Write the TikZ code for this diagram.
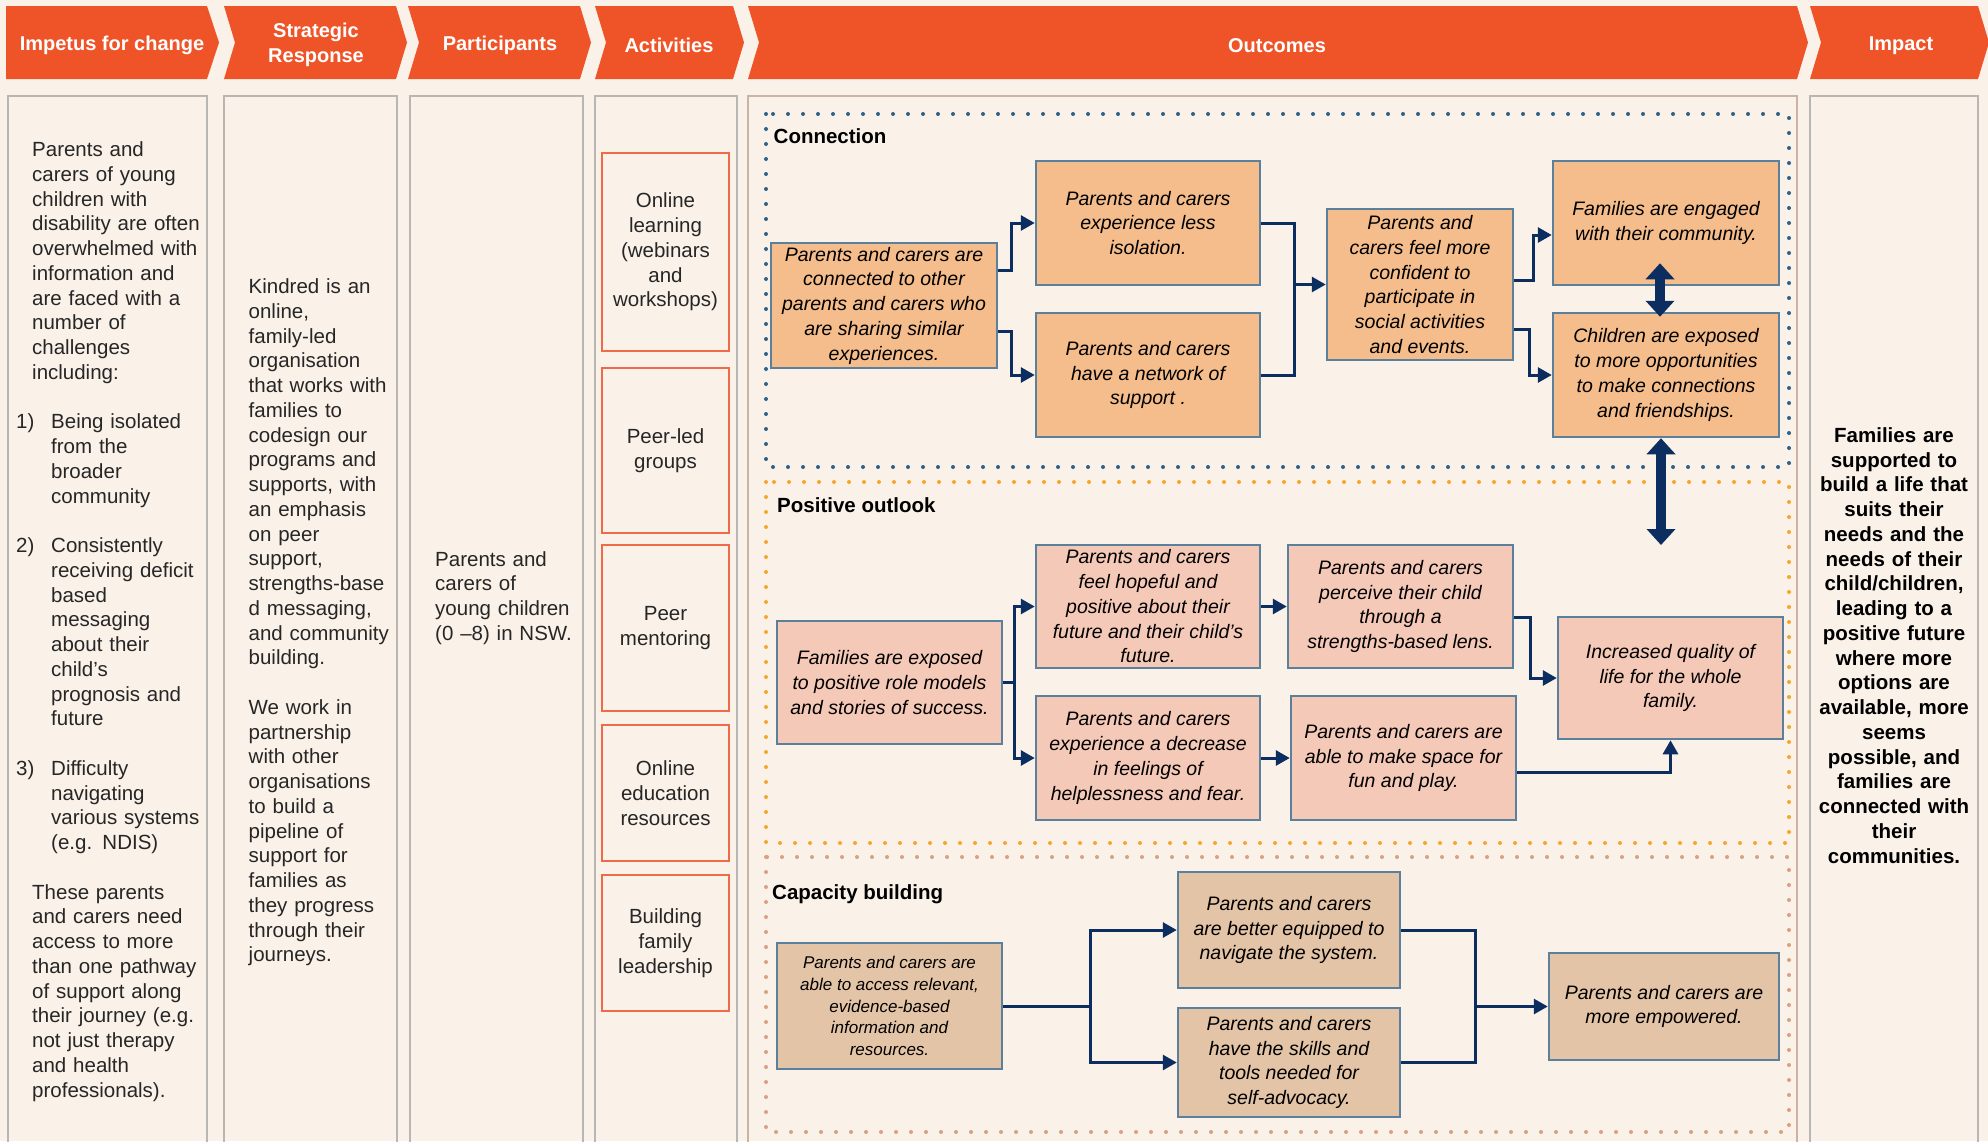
\documentclass[tikz,border=0pt]{standalone}
\usepackage{fontspec}
\setmainfont{Liberation Sans}
\usepackage{tikz}
\usetikzlibrary{arrows.meta}
\definecolor{cream}{HTML}{FAF1E8}
\definecolor{headorange}{HTML}{EF5428}
\definecolor{panelgray}{HTML}{B9B7B4}
\definecolor{panelbrown}{HTML}{C9B3A5}
\definecolor{actred}{HTML}{EF6A48}
\definecolor{boxblue}{HTML}{5B809C}
\definecolor{navy}{HTML}{0C2D60}
\definecolor{connfill}{HTML}{F4BD8B}
\definecolor{posfill}{HTML}{F5C9B7}
\definecolor{capfill}{HTML}{E4C4A6}
\definecolor{dotblue}{HTML}{2F6189}
\definecolor{dotorange}{HTML}{F6A62C}
\definecolor{dottan}{HTML}{D9A17E}
\definecolor{inkgray}{HTML}{262626}
\tikzstyle{head} = [text=white, align=center, font=\bfseries\fontsize{20}{25}\selectfont]
\tikzstyle{panel} = [draw=panelgray, line width=2.5pt]
\tikzstyle{coltext} = [anchor=base west, inner sep=0pt, text width=185pt, align=left, text=inkgray, font=\fontsize{20.5}{24.75}\selectfont]
\tikzstyle{impact} = [inner sep=0pt, text width=165pt, align=center, text=black, font=\bfseries\fontsize{20.5}{24.75}\selectfont]
\tikzstyle{activity} = [draw=actred, line width=2.5pt, minimum width=127pt, align=center, text=inkgray, font=\fontsize{20.5}{24.75}\selectfont]
\tikzstyle{outcome} = [draw=boxblue, line width=2.5pt, align=center, inner sep=2pt, text=black, font=\itshape\fontsize{19.5}{24.75}\selectfont]
\tikzstyle{connbox} = [outcome, fill=connfill]
\tikzstyle{posbox} = [outcome, fill=posfill]
\tikzstyle{capbox} = [outcome, fill=capfill]
\tikzstyle{conn} = [draw=navy, line width=3pt, -{Triangle[length=14pt,width=15pt]}]
\tikzstyle{joint} = [draw=navy, line width=3pt]
\tikzstyle{both} = [draw=navy, line width=10pt, {Triangle[length=16pt,width=28pt]}-{Triangle[length=16pt,width=28pt]}]
\tikzstyle{frame} = [line width=4pt, line cap=round, dash pattern=on 0pt off 15pt]
\tikzstyle{section} = [anchor=base west, inner sep=0pt, font=\bfseries\fontsize{20.5}{24.75}\selectfont]

\begin{document}
\begin{tikzpicture}[x=1pt,y=-1pt]
\useasboundingbox (0,0) rectangle (1988,1141);
\fill[cream] (0,0) rectangle (1988,1141);
\clip (0,0) rectangle (1988,1141);

\fill[headorange] (6,6) -- (207,6) -- (219,42.5) -- (207,79) -- (6,79) -- cycle;
\foreach \l/\r in {224/396, 408/580, 595/733, 748/1797, 1810/1978}
  \fill[headorange] (\l,6) -- (\r,6) -- (\r+11,42.5) -- (\r,79) -- (\l,79) -- (\l+11,42.5) -- cycle;
\node[head] (hImpetus) at (112,45.5) {Impetus for change};
\node[head] (hStrategy) at (316,45) {Strategic\\Response};
\node[head] (hParticipants) at (500,45.5) {Participants};
\node[head] (hActivities) at (669,45.5) {Activities};
\node[head] (hOutcomes) at (1277,45.5) {Outcomes};
\node[head] (hImpact) at (1901,45.5) {Impact};

\foreach \l/\r in {8/207, 224/397, 410/583, 595/737, 1810/1978}
  \draw[panel] (\l,1160) -- (\l,96) -- (\r,96) -- (\r,1160);
\draw[panel, draw=panelbrown] (748,1160) -- (748,96) -- (1797,96) -- (1797,1160);

\node[coltext] (impIntro) at (32,156.5) {Parents and\\carers of young\\children with\\disability are often\\overwhelmed with\\information and\\are faced with a\\number of\\challenges\\including:};
\node[coltext] (impNumA) at (16,428.75) {1)};
\node[coltext] (impA) at (51,428.75) {Being isolated\\from the\\broader\\community};
\node[coltext] (impNumB) at (16,552.5) {2)};
\node[coltext] (impB) at (51,552.5) {Consistently\\receiving deficit\\based\\messaging\\about their\\child's\\prognosis and\\future};
\node[coltext] (impNumC) at (16,775.25) {3)};
\node[coltext] (impC) at (51,775.25) {Difficulty\\navigating\\various systems\\(e.g. NDIS)};
\node[coltext] (impNeed) at (32,899) {These parents\\and carers need\\access to more\\than one pathway\\of support along\\their journey (e.g.\\not just therapy\\and health\\professionals).};

\node[coltext] (kindred) at (248.5,293.5) {Kindred is an\\online,\\family-led\\organisation\\that works with\\families to\\codesign our\\programs and\\supports, with\\an emphasis\\on peer\\support,\\strengths-base\\d messaging,\\and community\\building.};
\node[coltext] (partner) at (248.5,714.25) {We work in\\partnership\\with other\\organisations\\to build a\\pipeline of\\support for\\families as\\they progress\\through their\\journeys.};

\node[coltext] (parents) at (435,566) {Parents and\\carers of\\young children\\(0 –8) in NSW.};

\node[activity, minimum height=198pt] (actOnline) at (665.5,252) {Online\\learning\\(webinars\\and\\workshops)};
\node[activity, minimum height=165pt] (actPeerLed) at (665.5,450.5) {Peer-led\\groups};
\node[activity, minimum height=166pt] (actMentor) at (665.5,628) {Peer\\mentoring};
\node[activity, minimum height=136pt] (actEdu) at (665.5,793) {Online\\education\\resources};
\node[activity, minimum height=136pt] (actLead) at (665.5,943) {Building\\family\\leadership};

\draw[frame, dotblue] (766,114) rectangle (1789,467);
\draw[frame, dotorange] (766,482) rectangle (1789,843);
\draw[frame, dottan] (766,857) rectangle (1789,1132);
\node[section] (secConnection) at (773.5,143.5) {Connection};
\node[section] (secOutlook) at (777,512.5) {Positive outlook};
\node[section] (secCapacity) at (772,899) {Capacity building};

\node[connbox, minimum width=226pt, minimum height=125pt] (c1) at (884,305.5) {Parents and carers are\\connected to other\\parents and carers who\\are sharing similar\\experiences.};
\node[connbox, minimum width=224pt, minimum height=124pt] (c2) at (1148,223) {Parents and carers\\experience less\\isolation.};
\node[connbox, minimum width=224pt, minimum height=124pt] (c3) at (1148,375) {Parents and carers\\have a network of\\support .};
\node[connbox, minimum width=186pt, minimum height=151pt] (c4) at (1420,284.5) {Parents and\\carers feel more\\confident to\\participate in\\social activities\\and events.};
\node[connbox, minimum width=226pt, minimum height=124pt] (c5) at (1666,223) {Families are engaged\\with their community.};
\node[connbox, minimum width=226pt, minimum height=124pt] (c6) at (1666,375) {Children are exposed\\to more opportunities\\to make connections\\and friendships.};
\coordinate (cj) at (1294,284.5);
\coordinate (outlook) at (1661,545);
\draw[conn] ([yshift=35pt]c1.east) -- ++(13,0) |- (c2.west);
\draw[conn] ([yshift=-26pt]c1.east) -- ++(13,0) |- (c3.west);
\draw[joint] (c2.east) -| (cj);
\draw[joint] (c3.east) -| (cj);
\draw[conn] (cj) -- (c4.west);
\draw[conn] ([yshift=4pt]c4.east) -- ++(19,0) |- ([yshift=-12pt]c5.west);
\draw[conn] ([yshift=-45pt]c4.east) -- ++(15,0) |- (c6.west);
\draw[both] ([xshift=-6pt,yshift=23pt]c5.south) -- ([xshift=-6pt,yshift=-5pt]c6.north);
\draw[both] ([xshift=-5pt]c6.south) -- (outlook);

\node[posbox, minimum width=225pt, minimum height=123pt] (p1) at (889.5,682.5) {Families are exposed\\to positive role models\\and stories of success.};
\node[posbox, minimum width=224pt, minimum height=123pt] (p2) at (1148,606.5) {Parents and carers\\feel hopeful and\\positive about their\\future and their child’s\\future.};
\node[posbox, minimum width=224pt, minimum height=124pt] (p3) at (1148,758) {Parents and carers\\experience a decrease\\in feelings of\\helplessness and fear.};
\node[posbox, minimum width=225pt, minimum height=123pt] (p4) at (1400.5,606.5) {Parents and carers\\perceive their child\\through a\\strengths-based lens.};
\node[posbox, minimum width=225pt, minimum height=124pt] (p5) at (1403.5,758) {Parents and carers are\\able to make space for\\fun and play.};
\node[posbox, minimum width=225pt, minimum height=122pt] (p6) at (1670.5,678) {Increased quality of\\life for the whole\\family.};
\draw[conn] (p1.east) -- ++(11,0) |- (p2.west);
\draw[conn] (p1.east) -- ++(11,0) |- (p3.west);
\draw[conn] (p2.east) -- (p4.west);
\draw[conn] (p3.east) -- (p5.west);
\draw[conn] ([yshift=-11pt]p4.east) -- ++(16,0) |- (p6.west);
\draw[conn] ([yshift=-14pt]p5.east) -| (p6.south);

\node[capbox, minimum width=225pt, minimum height=126pt, font=\itshape\fontsize{17}{21.6}\selectfont] (k1) at (889.5,1006) {Parents and carers are\\able to access relevant,\\evidence-based\\information and\\resources.};
\node[capbox, minimum width=222pt, minimum height=116pt] (k2) at (1289,930) {Parents and carers\\are better equipped to\\navigate the system.};
\node[capbox, minimum width=222pt, minimum height=109pt] (k3) at (1289,1062.5) {Parents and carers\\have the skills and\\tools needed for\\self-advocacy.};
\node[capbox, minimum width=230pt, minimum height=107pt] (k4) at (1664,1006.5) {Parents and carers are\\more empowered.};
\coordinate (kj) at (1475,1006.5);
\draw[conn] (k1.east) -- ++(87,0) |- (k2.west);
\draw[conn] (k1.east) -- ++(87,0) |- (k3.west);
\draw[joint] (k2.east) -| (kj);
\draw[joint] (k3.east) -| (kj);
\draw[conn] (kj) -- (k4.west);

\node[impact] (impactText) at (1894,645.4) {Families are\\supported to\\build a life that\\suits their\\needs and the\\needs of their\\child/children,\\leading to a\\positive future\\where more\\options are\\available, more\\seems\\possible, and\\families are\\connected with\\their\\communities.};
\end{tikzpicture}
\end{document}
